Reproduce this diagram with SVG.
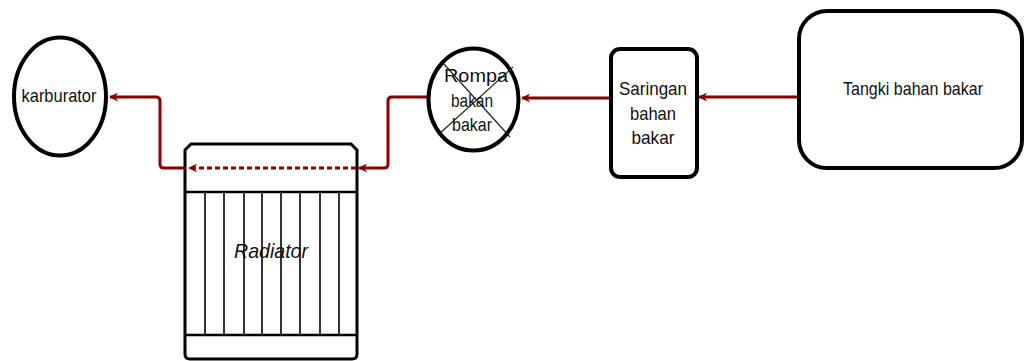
<svg xmlns="http://www.w3.org/2000/svg" width="1025" height="361" viewBox="0 0 1025 361">
  <style>
    .node { fill: #ffffff; stroke: #000000; stroke-width: 4; }
    .lbl { font-family: "Liberation Sans", Arial, sans-serif; font-size: 19px; fill: #111111; text-anchor: middle; }
    .flow { fill: none; stroke: #8b0000; stroke-width: 3; stroke-linejoin: round; }
    .fin { stroke: #333333; stroke-width: 2; }
  </style>
  <defs>
    <marker id="head" viewBox="0 0 10 10" refX="9" refY="5" markerWidth="11" markerHeight="9" markerUnits="userSpaceOnUse" orient="auto">
      <path d="M0,0 L10,5 L0,10 L3,5 Z" fill="#8b0000"/>
    </marker>
  </defs>

  <rect width="1025" height="361" fill="#ffffff"/>

  <!-- fuel tank -->
  <g id="tangki">
    <rect class="node" x="799" y="11" width="223" height="157" rx="28" ry="28"/>
    <text class="lbl" x="913" y="95" font-size="18" textLength="140" lengthAdjust="spacingAndGlyphs">Tangki bahan bakar</text>
  </g>

  <!-- fuel filter -->
  <g id="saringan">
    <rect class="node" x="611" y="49" width="86" height="128" rx="9" ry="9"/>
    <text class="lbl" x="653" y="95" textLength="68" lengthAdjust="spacingAndGlyphs">Saringan</text>
    <text class="lbl" x="653" y="120" textLength="46" lengthAdjust="spacingAndGlyphs">bahan</text>
    <text class="lbl" x="653" y="144" textLength="43" lengthAdjust="spacingAndGlyphs">bakar</text>
  </g>

  <!-- fuel pump -->
  <g id="pompa">
    <ellipse class="node" cx="473.5" cy="99.5" rx="45" ry="51"/>
    <line x1="443" y1="63" x2="510" y2="137" stroke="#222222" stroke-width="1.2"/>
    <line x1="513" y1="67" x2="438" y2="135" stroke="#222222" stroke-width="1.2"/>
    <text class="lbl" x="476" y="82" textLength="64" lengthAdjust="spacingAndGlyphs">Rompa</text>
    <text class="lbl" x="472" y="107" textLength="42" lengthAdjust="spacingAndGlyphs">bakan</text>
    <text class="lbl" x="472" y="131" textLength="40" lengthAdjust="spacingAndGlyphs">bakar</text>
  </g>

  <!-- radiator -->
  <g id="radiator">
    <path d="M185,150 L191,144 L351,144 L357,150 L357,354 Q357,359 352,359 L190,359 Q185,359 185,354 Z" fill="#ffffff" stroke="#000000" stroke-width="3"/>
    <line x1="185" y1="192" x2="357" y2="192" stroke="#000000" stroke-width="2.5"/>
    <line x1="185" y1="335" x2="357" y2="335" stroke="#000000" stroke-width="2.5"/>
    <g class="fin">
      <line x1="205" y1="192" x2="205" y2="335"/>
      <line x1="224" y1="192" x2="224" y2="335"/>
      <line x1="244" y1="192" x2="244" y2="335"/>
      <line x1="262" y1="192" x2="262" y2="335"/>
      <line x1="281" y1="192" x2="281" y2="335"/>
      <line x1="300" y1="192" x2="300" y2="335"/>
      <line x1="320" y1="192" x2="320" y2="335"/>
      <line x1="339" y1="192" x2="339" y2="335"/>
    </g>
    <text x="271" y="258" font-family="'Liberation Sans', Arial, sans-serif" font-size="21" font-style="italic" fill="#111111" text-anchor="middle" textLength="74" lengthAdjust="spacingAndGlyphs">Radiator</text>
  </g>

  <!-- carburettor -->
  <g id="karburator">
    <ellipse class="node" cx="60" cy="96.5" rx="46" ry="59"/>
    <text class="lbl" x="59" y="102" textLength="75" lengthAdjust="spacingAndGlyphs">karburator</text>
  </g>

  <!-- fuel lines -->
  <g id="connectors">
    <line class="flow" x1="797" y1="97" x2="699" y2="97" marker-end="url(#head)"/>
    <line class="flow" x1="609" y1="98" x2="522" y2="98" marker-end="url(#head)"/>
    <path class="flow" d="M427,97 L392,97 Q388,97 388,101 L388,164 Q388,168 384,168 L359,168" marker-end="url(#head)"/>
    <line class="flow" x1="356" y1="168" x2="189" y2="168" stroke-width="4" stroke-dasharray="5,3" marker-end="url(#head)"/>
    <path class="flow" d="M185,168 L164,168 Q160,168 160,164 L160,101 Q160,97 156,97 L110,97" marker-end="url(#head)"/>
  </g>
</svg>
